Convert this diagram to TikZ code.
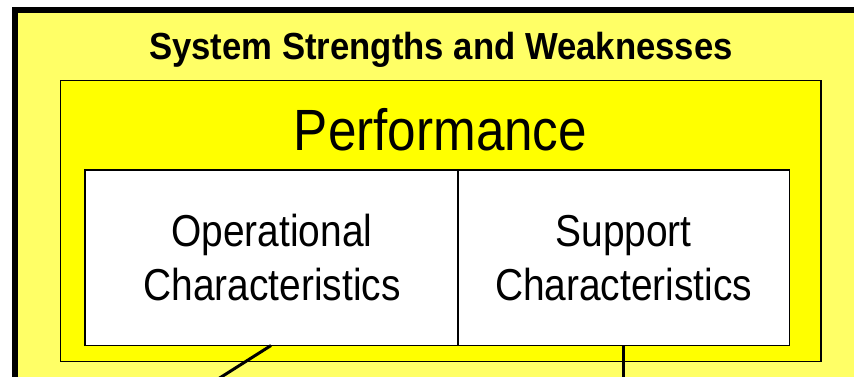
\documentclass[tikz,border=0pt]{standalone}
\usepackage{fontspec}
\setmainfont{Liberation Sans}
\definecolor{paleyellow}{RGB}{255,255,102}
\definecolor{brightyellow}{RGB}{255,255,0}
\begin{document}
\begin{tikzpicture}[x=1pt,y=-1pt,
  box/.style={draw=black,rectangle,inner sep=0pt,outer sep=0pt},
  celltext/.style={anchor=base,inner sep=0pt,font=\fontsize{44.7}{54}\selectfont},
  conn/.style={draw=black,line width=3pt}]
\useasboundingbox (0,0) rectangle (854,377);
\clip (0,0) rectangle (854,377);
\fill[white] (0,0) rectangle (854,377);
% outer box (extends beyond the picture)
\node[box,fill=paleyellow,line width=6pt,minimum width=885pt,minimum height=410pt] (outer) at (457.5,215) {};
\node[anchor=base,inner sep=0pt,font=\fontsize{37.7}{44}\selectfont\bfseries] (title) at (441,59.3) {\scalebox{0.92}[1]{System Strengths and Weaknesses}};
% performance box
\node[box,fill=brightyellow,line width=1.6pt,minimum width=760.5pt,minimum height=280.8pt] (perf) at (440.75,220.9) {};
\node[anchor=base,inner sep=0pt,font=\fontsize{58.2}{66}\selectfont] (perftitle) at (440.5,150) {\scalebox{0.88}[1]{Performance}};
% cells
\node[box,fill=white,line width=1.6pt,minimum width=373pt,minimum height=175.5pt] (opcell) at (271.5,257.75) {};
\node[box,fill=white,line width=1.6pt,minimum width=331.3pt,minimum height=175.5pt] (supcell) at (623.65,257.75) {};
\node[celltext] (op1) at (272,246) {\scalebox{0.87}[1]{Operational}};
\node[celltext] (op2) at (272,300) {\scalebox{0.87}[1]{Characteristics}};
\node[celltext] (sp1) at (623.6,246) {\scalebox{0.87}[1]{Support}};
\node[celltext] (sp2) at (623.6,300) {\scalebox{0.87}[1]{Characteristics}};
% connectors leaving the picture
\coordinate (opend) at (200.7,390);
\coordinate (spend) at (623.65,390);
\draw[conn] ([xshift=-0.5pt]opcell.south) -- (opend);
\draw[conn] (supcell.south) -- (spend);
\end{tikzpicture}
\end{document}
